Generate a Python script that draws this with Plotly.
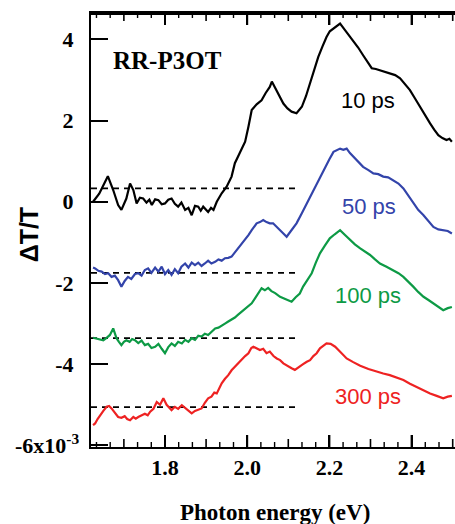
import plotly.graph_objects as go

# ---- data ----
x_10 = [1.625, 1.640, 1.661, 1.674, 1.686, 1.694, 1.706, 1.715, 1.723, 1.731, 1.739, 1.747, 1.755, 1.762, 1.768,
        1.776, 1.784, 1.792, 1.800, 1.808, 1.816, 1.824, 1.832, 1.840, 1.849, 1.857, 1.865, 1.873, 1.881, 1.887,
        1.893, 1.899, 1.905, 1.912, 1.918, 1.926, 1.938, 1.950, 1.962, 1.970, 1.982, 1.995, 2.003, 2.011, 2.023,
        2.035, 2.045, 2.055, 2.060, 2.074, 2.088, 2.098, 2.108, 2.120, 2.133, 2.143, 2.153, 2.163, 2.173, 2.183,
        2.193, 2.201, 2.210, 2.218, 2.226, 2.238, 2.248, 2.258, 2.270, 2.282, 2.292, 2.303, 2.313, 2.323, 2.335,
        2.347, 2.360, 2.372, 2.384, 2.396, 2.408, 2.420, 2.433, 2.445, 2.455, 2.465, 2.475, 2.485, 2.492, 2.498]
y_10 = [0.00, 0.20, 0.63, 0.29, -0.08, -0.20, 0.08, 0.45, 0.29, -0.04, 0.10, 0.08, -0.02, 0.05, -0.08,
        0.06, 0.04, -0.06, -0.04, 0.05, 0.08, -0.05, -0.12, -0.02, -0.20, -0.15, -0.33, -0.10, -0.12, -0.22,
        -0.12, -0.20, -0.25, -0.15, -0.20, 0.00, 0.21, 0.37, 0.62, 0.95, 1.19, 1.48, 1.85, 2.26, 2.40,
        2.50, 2.68, 2.83, 2.96, 2.70, 2.42, 2.30, 2.22, 2.18, 2.34, 2.60, 2.92, 3.25, 3.57, 3.82,
        4.06, 4.20, 4.27, 4.33, 4.39, 4.23, 4.10, 3.98, 3.80, 3.61, 3.45, 3.29, 3.27, 3.24, 3.20,
        3.16, 3.12, 3.04, 2.90, 2.75, 2.55, 2.34, 2.13, 1.93, 1.78, 1.64, 1.57, 1.52, 1.55, 1.48]

x_50 = [1.625, 1.630, 1.638, 1.646, 1.654, 1.662, 1.670, 1.678, 1.686, 1.694, 1.702, 1.710, 1.718, 1.727, 1.735,
        1.743, 1.751, 1.759, 1.767, 1.776, 1.784, 1.792, 1.800, 1.808, 1.816, 1.824, 1.832, 1.840, 1.849, 1.857,
        1.865, 1.873, 1.881, 1.889, 1.897, 1.905, 1.913, 1.922, 1.930, 1.938, 1.946, 1.954, 1.962, 1.970, 1.978,
        1.986, 1.995, 2.003, 2.011, 2.017, 2.023, 2.031, 2.039, 2.047, 2.055, 2.063, 2.075, 2.088, 2.096, 2.104,
        2.112, 2.120, 2.132, 2.145, 2.157, 2.169, 2.179, 2.189, 2.200, 2.210, 2.218, 2.226, 2.234, 2.242, 2.250,
        2.258, 2.270, 2.282, 2.295, 2.307, 2.319, 2.331, 2.343, 2.355, 2.368, 2.380, 2.392, 2.404, 2.416, 2.429,
        2.441, 2.453, 2.465, 2.477, 2.488, 2.498]
y_50 = [-1.62, -1.64, -1.70, -1.72, -1.78, -1.76, -1.85, -1.82, -1.93, -2.09, -1.95, -1.85, -1.90, -1.78, -1.76,
        -1.82, -1.68, -1.64, -1.75, -1.62, -1.72, -1.60, -1.78, -1.68, -1.80, -1.66, -1.76, -1.60, -1.52, -1.62,
        -1.50, -1.56, -1.50, -1.58, -1.52, -1.45, -1.52, -1.48, -1.42, -1.45, -1.39, -1.38, -1.35, -1.25, -1.15,
        -1.05, -0.94, -0.82, -0.70, -0.60, -0.53, -0.50, -0.45, -0.50, -0.53, -0.53, -0.66, -0.78, -0.86, -0.75,
        -0.65, -0.53, -0.30, -0.04, 0.20, 0.45, 0.65, 0.86, 1.05, 1.23, 1.28, 1.31, 1.28, 1.31, 1.20,
        1.11, 0.98, 0.86, 0.78, 0.70, 0.68, 0.62, 0.60, 0.53, 0.45, 0.33, 0.15, -0.04, -0.20, -0.33,
        -0.48, -0.62, -0.68, -0.70, -0.72, -0.78]

x_100 = [1.625, 1.630, 1.640, 1.650, 1.658, 1.666, 1.674, 1.682, 1.688, 1.694, 1.700, 1.706, 1.714, 1.720, 1.727,
         1.735, 1.743, 1.751, 1.759, 1.767, 1.776, 1.784, 1.792, 1.800, 1.808, 1.816, 1.824, 1.832, 1.841, 1.849,
         1.857, 1.865, 1.873, 1.881, 1.889, 1.897, 1.905, 1.913, 1.922, 1.930, 1.938, 1.946, 1.954, 1.962, 1.970,
         1.978, 1.986, 1.995, 2.003, 2.011, 2.019, 2.027, 2.035, 2.043, 2.051, 2.059, 2.068, 2.080, 2.088, 2.098,
         2.108, 2.118, 2.128, 2.136, 2.147, 2.157, 2.167, 2.177, 2.189, 2.201, 2.213, 2.226, 2.238, 2.250, 2.262,
         2.275, 2.287, 2.299, 2.311, 2.323, 2.339, 2.355, 2.368, 2.380, 2.392, 2.404, 2.416, 2.429, 2.441, 2.453,
         2.465, 2.477, 2.488, 2.498]
y_100 = [-3.35, -3.36, -3.38, -3.41, -3.35, -3.28, -3.12, -3.36, -3.45, -3.53, -3.45, -3.41, -3.45, -3.38, -3.41,
         -3.48, -3.42, -3.53, -3.50, -3.60, -3.57, -3.50, -3.62, -3.73, -3.58, -3.49, -3.55, -3.45, -3.49, -3.40,
         -3.45, -3.36, -3.40, -3.30, -3.32, -3.25, -3.28, -3.20, -3.12, -3.10, -3.04, -3.00, -2.95, -2.91, -2.85,
         -2.78, -2.71, -2.62, -2.55, -2.50, -2.38, -2.26, -2.13, -2.18, -2.12, -2.20, -2.25, -2.34, -2.38, -2.42,
         -2.46, -2.35, -2.26, -2.09, -1.92, -1.76, -1.50, -1.27, -1.08, -0.90, -0.80, -0.70, -0.82, -0.94, -1.05,
         -1.15, -1.22, -1.31, -1.42, -1.52, -1.60, -1.68, -1.76, -1.85, -1.96, -2.09, -2.22, -2.34, -2.42, -2.50,
         -2.58, -2.67, -2.62, -2.59]

x_300 = [1.625, 1.630, 1.636, 1.642, 1.650, 1.658, 1.664, 1.670, 1.678, 1.686, 1.694, 1.702, 1.708, 1.715, 1.723,
         1.729, 1.735, 1.743, 1.751, 1.758, 1.764, 1.772, 1.780, 1.788, 1.796, 1.804, 1.810, 1.816, 1.824, 1.832,
         1.841, 1.849, 1.857, 1.865, 1.873, 1.881, 1.889, 1.897, 1.905, 1.913, 1.920, 1.926, 1.932, 1.938, 1.946,
         1.954, 1.962, 1.970, 1.978, 1.986, 1.995, 2.003, 2.010, 2.015, 2.023, 2.031, 2.039, 2.047, 2.055, 2.064,
         2.072, 2.080, 2.088, 2.098, 2.108, 2.116, 2.126, 2.136, 2.145, 2.153, 2.161, 2.169, 2.177, 2.185, 2.193,
         2.203, 2.214, 2.222, 2.232, 2.242, 2.258, 2.275, 2.295, 2.315, 2.331, 2.347, 2.364, 2.380, 2.396, 2.412,
         2.429, 2.445, 2.461, 2.477, 2.488, 2.498]
y_300 = [-5.50, -5.46, -5.35, -5.25, -5.15, -5.05, -5.03, -5.09, -5.20, -5.30, -5.32, -5.28, -5.35, -5.38, -5.30,
         -5.34, -5.30, -5.25, -5.22, -5.26, -5.17, -5.10, -4.93, -5.00, -4.84, -5.00, -5.08, -5.13, -5.05, -5.10,
         -5.01, -5.08, -5.15, -5.21, -5.15, -5.12, -5.09, -4.95, -4.84, -4.80, -4.70, -4.72, -4.58, -4.47, -4.36,
         -4.27, -4.15, -4.06, -3.98, -3.90, -3.80, -3.73, -3.60, -3.57, -3.62, -3.65, -3.62, -3.73, -3.69, -3.80,
         -3.86, -3.90, -3.98, -4.05, -4.10, -4.14, -4.08, -4.00, -3.94, -3.90, -3.80, -3.73, -3.61, -3.55, -3.49,
         -3.50, -3.57, -3.65, -3.75, -3.86, -3.95, -4.04, -4.12, -4.19, -4.23, -4.27, -4.33, -4.39, -4.48, -4.56,
         -4.64, -4.72, -4.78, -4.84, -4.80, -4.78]

delays = ["10 ps", "50 ps", "100 ps", "300 ps"]
colors = ["#000000", "#3344aa", "#0d9a45", "#ee2222"]
baselines = [0.33, -1.75, -3.36, -5.06]
baseline_x = [1.62, 2.128]
label_x = [2.294, 2.296, 2.294, 2.294]
label_y = [2.50, -0.11, -2.32, -4.79]

ytick_vals = [-6, -4, -2, 0, 2, 4]
ytick_text = ["<b>-6x10<sup>-3</sup></b>\u00a0", "<b>-4</b>\u00a0\u00a0", "<b>-2</b>\u00a0\u00a0",
              "<b>0</b>\u00a0\u00a0", "<b>2</b>\u00a0\u00a0", "<b>4</b>\u00a0\u00a0"]
xtick_vals = [1.8, 2.0, 2.2, 2.4]
xtick_text = ["<b>1.8</b>", "<b>2.0</b>", "<b>2.2</b>", "<b>2.4</b>"]
xmid_vals = [1.7, 1.9, 2.1, 2.3, 2.5]
xsmall_vals = [1.6333, 1.6667, 1.7333, 1.7667, 1.8333, 1.8667, 1.9333, 1.9667, 2.0333, 2.0667,
               2.1333, 2.1667, 2.2333, 2.2667, 2.3333, 2.3667, 2.4333, 2.4667]

series_x = [x_10, x_50, x_100, x_300]
series_y = [y_10, y_50, y_100, y_300]

# ---- figure geometry ----
W, H = 455, 524
M = dict(l=91, r=0, t=13, b=77)
x_range = [1.62, 2.5056]
y_range = [-6.04, 4.65]
px_per_y = (H - M["t"] - M["b"]) / (y_range[1] - y_range[0])   # y-axis scale (pixels per unit)

fig = go.Figure()

for b in baselines:
    fig.add_trace(go.Scatter(x=baseline_x, y=[b, b], mode="lines",
                             line=dict(color="black", width=1.8, dash="6px,5px"),
                             showlegend=False, hoverinfo="skip"))

for xs, ys, c in zip(series_x, series_y, colors):
    fig.add_trace(go.Scatter(x=xs, y=ys, mode="lines",
                             line=dict(color=c, width=2.2), showlegend=False))

# x-axis tick marks on the bottom and (mirrored) top edges, built from the tick lists and the
# y-axis scale so their length is a fixed number of pixels
for vals, length_px, width in ((xtick_vals, 12, 2.0), (xmid_vals, 8, 1.6), (xsmall_vals, 5, 1.4)):
    dy = length_px / px_per_y
    tx, ty = [], []
    for v in vals:
        tx += [v, v, None, v, v, None]
        ty += [y_range[0], y_range[0] + dy, None, y_range[1], y_range[1] - dy, None]
    fig.add_trace(go.Scatter(x=tx, y=ty, mode="lines", line=dict(color="black", width=width),
                             showlegend=False, hoverinfo="skip"))

# top frame line (just inside the plotting area so it is not clipped)
top_y = y_range[1] - 1.0 / px_per_y
fig.add_trace(go.Scatter(x=x_range, y=[top_y, top_y], mode="lines",
                         line=dict(color="black", width=2), showlegend=False, hoverinfo="skip"))

annotations = []
for name, c, lx, ly in zip(delays, colors, label_x, label_y):
    annotations.append(dict(x=lx, y=ly, xref="x", yref="y", text=name, showarrow=False,
                            font=dict(family="Liberation Sans", size=22, color=c),
                            xanchor="center", yanchor="middle"))
annotations.append(dict(x=1.805, y=3.47, xref="x", yref="y", text="<b>RR-P3OT</b>", showarrow=False,
                        font=dict(family="Liberation Serif", size=25, color="black"),
                        xanchor="center", yanchor="middle"))
annotations.append(dict(x=-0.17, y=0.488, xref="paper", yref="paper", text="<b>ΔT/T</b>", showarrow=False,
                        textangle=-90, font=dict(family="Liberation Sans", size=25, color="black"),
                        xanchor="center", yanchor="middle"))
annotations.append(dict(x=0.505, y=-0.15, xref="paper", yref="paper", text="<b>Photon energy (eV)</b>",
                        showarrow=False, font=dict(family="Liberation Serif", size=23, color="black"),
                        xanchor="center", yanchor="middle"))

fig.update_layout(
    template="none",
    width=W, height=H, autosize=False,
    margin=dict(**M, autoexpand=False),
    paper_bgcolor="white", plot_bgcolor="white",
    annotations=annotations,
    xaxis=dict(range=x_range, tickmode="array", tickvals=xtick_vals, ticktext=xtick_text,
               ticks="inside", ticklen=12, tickwidth=2, tickcolor="black",
               showline=True, linewidth=2, linecolor="black", mirror="ticks",
               showgrid=False, zeroline=False, automargin=False,
               tickfont=dict(family="Liberation Serif", size=22, color="black")),
    yaxis=dict(range=y_range, tickmode="array", tickvals=ytick_vals, ticktext=ytick_text,
               ticks="inside", ticklen=17, tickwidth=2, tickcolor="black",
               showline=True, linewidth=2, linecolor="black", mirror=False,
               showgrid=False, zeroline=False, automargin=False,
               tickfont=dict(family="Liberation Serif", size=22, color="black")),
)

fig.write_html("out.html")
